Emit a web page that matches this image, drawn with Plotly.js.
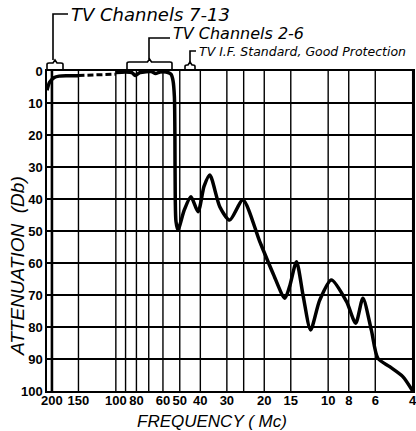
<!DOCTYPE html>
<html>
<head>
<meta charset="utf-8">
<script src="https://cdn.plot.ly/plotly-3.0.1.min.js"></script>
<style>
html,body{margin:0;padding:0;background:#fff;}
#chart{width:416px;height:431px;}
</style>
</head>
<body>
<div id="chart"></div>
<script>
// Frequency (Mc) and attenuation (Db)
const freqStart = [211, 205, 195, 185, 170, 150];
const attStart  = [6.0, 3.5, 2.0, 1.6, 1.5, 1.5];

const freqDashed = [150, 125, 100];
const attDashed  = [1.4, 1.2, 1.0];

const freqMain = [100, 90, 84, 81, 77, 72, 68, 65, 62, 58, 55, 53.8, 53, 52.7, 52.5, 52.1, 51, 47.6, 44.3, 41, 38.4, 36.1, 32.4, 29.1, 25.2, 21, 18.2, 16, 15.2, 14.1, 13.1, 12.1, 10.96, 9.66, 8.2, 7.42, 6.86, 6.26, 5.83, 5.13, 4.45, 4];
const attMain  = [0.5, 0.3, 0.5, 1.4, 0.5, 0.2, 0.2, 0.8, 0.3, 0.3, 1.0, 3, 8, 20, 40, 47, 49.7, 43.4, 39.3, 44, 36, 32.5, 42.4, 46.6, 40.3, 53.3, 63.2, 71, 67.4, 59.6, 70.5, 80.9, 71.6, 65.3, 72, 78.8, 71, 81, 89.8, 92.4, 95.5, 100];

const xGridVals = [200, 150, 100, 90, 80, 70, 60, 50, 40, 30, 25, 20, 15, 10, 8, 6, 4];
const xLabelVals = [200, 150, 100, 80, 60, 50, 40, 30, 20, 15, 10, 8, 6, 4];
const yTickVals = [0, 10, 20, 30, 40, 50, 60, 70, 80, 90, 100];

const bracketLabels = ['TV Channels 7-13', 'TV Channels 2-6', 'TV I.F. Standard, Good Protection'];
const xTitle = 'FREQUENCY ( Mc)';
const yTitle = 'ATTENUATION  (Db)';

const xRange = [Math.log10(211), Math.log10(3.985)];
const W = 416, H = 431, L = 47, R = 3, T = 71, B = 40;
const pw = W - L - R, ph = H - T - B;
const px2x = p => (p - L) / pw;
const px2y = p => (H - B - p) / ph;
const f2x = f => (Math.log10(f) - xRange[0]) / (xRange[1] - xRange[0]);

const lineStyle = {color: '#000', width: 3.5, shape: 'spline', smoothing: 0.7};

const traces = [
  {x: freqStart, y: attStart, mode: 'lines', line: lineStyle, hoverinfo: 'skip', showlegend: false},
  {x: freqDashed, y: attDashed, mode: 'lines', line: {color: '#000', width: 3, dash: '6px,3px'}, hoverinfo: 'skip', showlegend: false},
  {x: freqMain, y: attMain, mode: 'lines', line: lineStyle, hoverinfo: 'skip', showlegend: false}
];

const shapes = [];
xGridVals.forEach(f => {
  shapes.push({type: 'line', xref: 'paper', yref: 'paper', x0: f2x(f), x1: f2x(f), y0: 0, y1: 1,
    line: {color: '#000', width: f === 200 ? 2.6 : 1.4}, layer: 'below'});
});

function bracket(xa, xb, yh, yend, xs, ytop, xe) {
  const xm = (xa + xb) / 2;
  const p = `M${px2x(xa)},${px2y(yend)} L${px2x(xa)},${px2y(yh+1.5)} Q${px2x(xa)},${px2y(yh)} ${px2x(xa+2)},${px2y(yh)} L${px2x(xm-2)},${px2y(yh)} L${px2x(xm)},${px2y(yh-3)} L${px2x(xm+2)},${px2y(yh)} L${px2x(xb-2)},${px2y(yh)} Q${px2x(xb)},${px2y(yh)} ${px2x(xb)},${px2y(yh+1.5)} L${px2x(xb)},${px2y(yend)}`;
  shapes.push({type: 'path', xref: 'paper', yref: 'paper', path: p, line: {color: '#000', width: 1.6}});
  shapes.push({type: 'path', xref: 'paper', yref: 'paper',
    path: `M${px2x(xs)},${px2y(yh-3)} L${px2x(xs)},${px2y(ytop)} L${px2x(xe)},${px2y(ytop)}`,
    line: {color: '#000', width: 1.6}});
}
bracket(47, 63, 63, 70, 53, 14, 68);
bracket(127, 172, 62, 69, 149, 38, 170);
bracket(185, 195, 65, 70, 190, 51, 196);

const hand = "'DejaVu Sans', 'Liberation Sans', sans-serif";
const lib = "'Liberation Sans', Arial, sans-serif";
const annotations = [
  {text: bracketLabels[0], xref: 'paper', yref: 'paper', x: px2x(69), y: px2y(15), xanchor: 'left', yanchor: 'middle', showarrow: false,
    font: {family: hand, size: 18, color: '#000', style: 'italic'}},
  {text: bracketLabels[1], xref: 'paper', yref: 'paper', x: px2x(171), y: px2y(34), xanchor: 'left', yanchor: 'middle', showarrow: false,
    font: {family: hand, size: 16, color: '#000', style: 'italic'}},
  {text: bracketLabels[2], xref: 'paper', yref: 'paper', x: px2x(197), y: px2y(51), xanchor: 'left', yanchor: 'middle', showarrow: false,
    font: {family: hand, size: 12.5, color: '#000', style: 'italic'}},
  {text: xTitle, xref: 'paper', yref: 'paper', x: px2x(212), y: px2y(421), xanchor: 'center', yanchor: 'middle', showarrow: false,
    font: {family: lib, size: 17, color: '#000', style: 'italic'}},
  {text: yTitle, xref: 'paper', yref: 'paper', x: px2x(17), y: px2y(266), xanchor: 'center', yanchor: 'middle', showarrow: false,
    textangle: -90, font: {family: lib, size: 19, color: '#000', style: 'italic'}}
];

const tickFont = {family: lib, size: 13, color: '#000', weight: 'bold'};

const layout = {
  width: W, height: H,
  margin: {l: L, r: R, t: T, b: B},
  paper_bgcolor: '#fff', plot_bgcolor: '#fff',
  showlegend: false,
  xaxis: {
    type: 'log', range: xRange, showgrid: false, zeroline: false,
    tickmode: 'array', tickvals: xLabelVals, ticktext: xLabelVals.map(String),
    tickangle: 0, ticks: '', tickfont: tickFont, ticklabelstandoff: -3, ticklabeloverflow: 'allow',
    showline: true, linecolor: '#000', linewidth: 1.6, mirror: true
  },
  yaxis: {
    range: [100, 0], tickmode: 'array', tickvals: yTickVals,
    showgrid: true, gridcolor: '#000', gridwidth: 1.4, zeroline: false,
    ticks: '', tickfont: tickFont,
    showline: true, linecolor: '#000', linewidth: 1.6, mirror: true
  },
  shapes: shapes,
  annotations: annotations
};

Plotly.newPlot('chart', traces, layout, {displayModeBar: false, staticPlot: true});
</script>
</body>
</html>
